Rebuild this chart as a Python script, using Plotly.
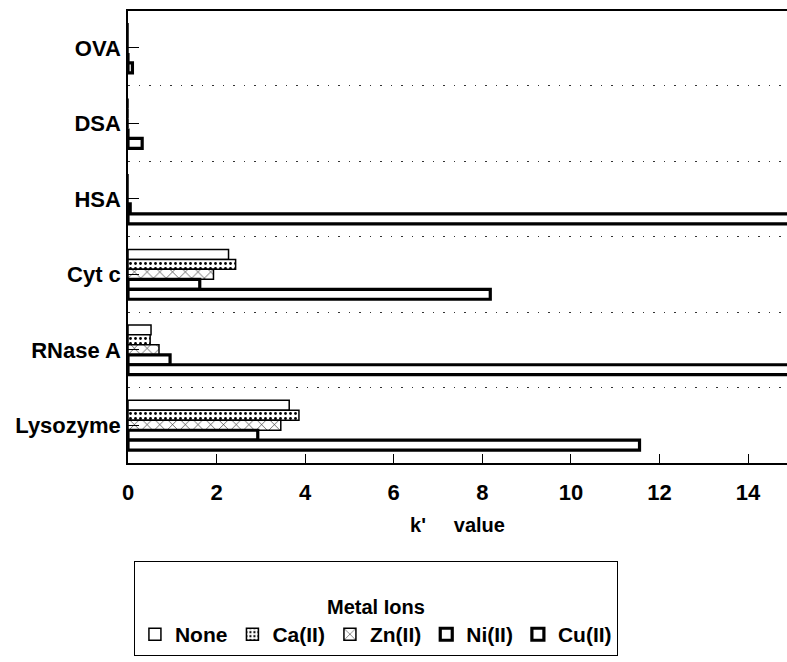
import plotly.graph_objects as go

# Categories listed top to bottom
proteins = ["OVA", "DSA", "HSA", "Cyt c", "RNase A", "Lysozyme"]
series_names = ["None", "Ca(II)", "Zn(II)", "Ni(II)", "Cu(II)"]

none_vals = [0.0, 0.0, 0.0, 2.27, 0.52, 3.64]
ca_vals = [0.0, 0.0, 0.0, 2.43, 0.50, 3.86]
zn_vals = [0.0, 0.0, 0.0, 1.93, 0.70, 3.45]
ni_vals = [0.0, 0.0, 0.05, 1.62, 0.95, 2.93]
cu_vals = [0.10, 0.32, 16.0, 8.18, 16.0, 11.55]

x_ticks = [0, 2, 4, 6, 8, 10, 12, 14]

values = [none_vals, ca_vals, zn_vals, ni_vals, cu_vals]
styles = [
    dict(shape="", lw=1.5),
    dict(shape=".", lw=1.5),
    dict(shape="x", lw=1.5),
    dict(shape="", lw=3.2),
    dict(shape="", lw=3.2),
]

FONT = "Liberation Sans, Arial, sans-serif"
ypos = list(range(len(proteins)))

fig = go.Figure()
for name, vals, st in zip(series_names, values, styles):
    marker = dict(color="white", line=dict(color="black", width=st["lw"]))
    if st["shape"] == ".":
        marker["pattern"] = dict(shape=".", fgcolor="black", bgcolor="white",
                                 size=5, solidity=0.25, fillmode="replace")
    elif st["shape"] == "x":
        marker["pattern"] = dict(shape="x", fgcolor="black", bgcolor="white",
                                 size=9, solidity=0.12, fillmode="replace")
    fig.add_trace(go.Bar(y=ypos, x=vals, name=name, orientation="h",
                         marker=marker))

fig.update_layout(
    width=787, height=662,
    margin=dict(l=128, r=0, t=11, b=199),
    barmode="group", bargap=0.34, bargroupgap=0.0,
    plot_bgcolor="white", paper_bgcolor="white",
    font=dict(family=FONT, size=21, color="black", weight="bold"),
    showlegend=True,
    legend=dict(
        orientation="h", x=0.009, xanchor="left", y=-0.217, yanchor="top",
        bordercolor="black", borderwidth=1,
        font=dict(family=FONT, size=21, color="black", weight="bold"),
        title=dict(text="<br>Metal Ions", side="top center",
                   font=dict(family=FONT, size=20, color="black", weight="bold")),
        itemclick=False,
    ),
)

fig.update_xaxes(
    range=[0, 14.88], tickvals=x_ticks, ticktext=[str(v) for v in x_ticks],
    ticks="inside", ticklen=9, tickwidth=1.2, tickcolor="black",
    showline=True, linecolor="black", linewidth=1.5, mirror=True,
    showgrid=False, zeroline=False, ticklabelstandoff=9,
    title=dict(text="k'\u00a0\u00a0\u00a0\u00a0\u00a0value", standoff=14,
               font=dict(family=FONT, size=20, weight="bold")),
    tickfont=dict(family=FONT, size=22, weight="bold"),
)

fig.update_yaxes(
    range=[len(proteins) - 0.5, -0.49],
    tickvals=ypos, ticktext=proteins,
    ticks="inside", ticklen=11, tickwidth=1.2, tickcolor="black",
    showline=True, linecolor="black", linewidth=1.5, mirror=False,
    showgrid=False, zeroline=False, ticklabelstandoff=1,
    tickfont=dict(family=FONT, size=22, weight="bold"),
    minor=dict(tickmode="array",
               tickvals=[p + 0.5 for p in ypos[:-1]],
               ticks="", showgrid=True, gridcolor="#333333",
               gridwidth=1.2, griddash="1.5px,9px"),
)

fig.write_html("out.html")
